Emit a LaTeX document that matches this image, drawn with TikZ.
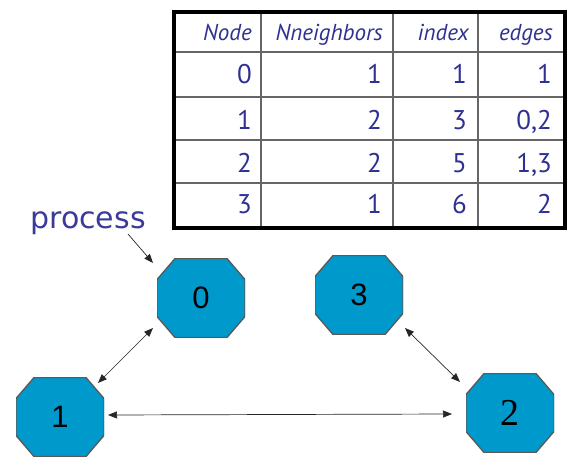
\documentclass[tikz,border=0pt]{standalone}
\usepackage{fontspec}
\setmainfont{Liberation Sans}
\newfontfamily\tabfont{PT Sans}
\newfontfamily\procfont{DejaVu Sans}
\newfontfamily\serifnum{Liberation Serif}
\usetikzlibrary{arrows.meta}
\definecolor{tabblue}{HTML}{2E3192}
\definecolor{procblue}{HTML}{3A3A9A}
\definecolor{octfill}{HTML}{0099CC}
\begin{document}
\begin{tikzpicture}[x=1pt,y=-1pt,
  octnode/.style={rectangle, minimum width=88pt, minimum height=79pt, inner sep=0pt,
    font=\fontsize{31}{31}\selectfont,
    path picture={\filldraw[fill=octfill, draw=black!65, line width=1.3pt]
      ([xshift=18pt]path picture bounding box.north west) --
      ([xshift=-18pt]path picture bounding box.north east) --
      ([yshift=-21pt]path picture bounding box.north east) --
      ([yshift=21pt]path picture bounding box.south east) --
      ([xshift=-18pt]path picture bounding box.south east) --
      ([xshift=18pt]path picture bounding box.south west) --
      ([yshift=21pt]path picture bounding box.south west) --
      ([yshift=-21pt]path picture bounding box.north west) -- cycle;}},
  hdr/.style={anchor=base east, inner sep=0pt, text=tabblue, font=\tabfont\itshape\fontsize{23}{23}\selectfont},
  cell/.style={anchor=base east, inner sep=0pt, text=tabblue, font=\tabfont\fontsize{27}{27}\selectfont},
  inner line/.style={draw=black!60, line width=1.3pt},
  conn/.style={{Triangle[length=9pt,width=7pt]}-{Triangle[length=9pt,width=7pt]}, line width=0.7pt, draw=black!85},
  oneway/.style={-{Triangle[length=9pt,width=7pt]}, line width=0.7pt, draw=black!85}
]
\useasboundingbox (0,0) rectangle (582,469);
% table
\fill[white] (174,12) rectangle (565,228);
\foreach \xx in {261,393,478} \draw[inner line] (\xx,12) -- (\xx,228);
\foreach \yy in {52,97,140,183} \draw[inner line] (174,\yy) -- (565,\yy);
\draw[line width=3.5pt, draw=black] (174,12) rectangle (565,228);
\node[hdr] (h1) at (252,40) {Node};
\node[hdr] (h2) at (383,40) {Nneighbors};
\node[hdr] (h3) at (469,40) {index};
\node[hdr] (h4) at (553,40) {edges};
\node[cell] (a1) at (252,83) {0};
\node[cell] (b1) at (382,83) {1};
\node[cell] (c1) at (467,83) {1};
\node[cell] (d1) at (552,83) {1};
\node[cell] (a2) at (252,129) {1};
\node[cell] (b2) at (382,129) {2};
\node[cell] (c2) at (467,129) {3};
\node[cell] (d2) at (552,129) {0,2};
\node[cell] (a3) at (252,172) {2};
\node[cell] (b3) at (382,172) {2};
\node[cell] (c3) at (467,172) {5};
\node[cell] (d3) at (552,172) {1,3};
\node[cell] (a4) at (252,213) {3};
\node[cell] (b4) at (382,213) {1};
\node[cell] (c4) at (467,213) {6};
\node[cell] (d4) at (552,213) {2};
% graph
\node[octnode] (n0) at (201,298) {0};
\node[octnode] (n1) at (60,417) {1};
\node[octnode, font=\serifnum\fontsize{38}{38}\selectfont] (n2) at (510,413) {2};
\node[octnode] (n3) at (359,295) {3};
\node[inner sep=0pt, anchor=base, text=procblue, font=\procfont\fontsize{30}{30}\selectfont] (proc) at (88,228) {process};
\draw[oneway] ([shift={(40,6)}]proc.base) -- ([shift={(-48,-35)}]n0.center);
\draw[conn] ([shift={(-48,30)}]n0.center) -- ([shift={(38,-34)}]n1.center);
\draw[conn] ([shift={(48,-2)}]n1.center) -- ([shift={(-58,1)}]n2.center);
\draw[conn] ([shift={(46,33)}]n3.center) -- ([shift={(-50,-31)}]n2.center);
\end{tikzpicture}
\end{document}
